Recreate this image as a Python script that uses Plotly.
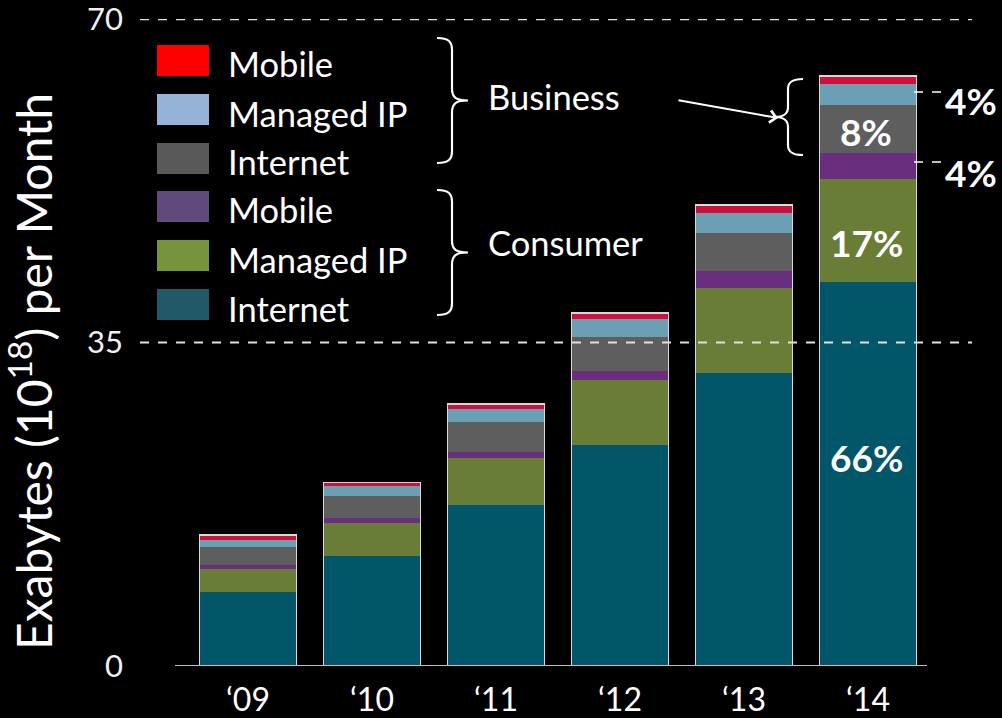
import numpy as np
import plotly.graph_objects as go

# ---------------- data ----------------
years = ["‘09", "‘10", "‘11", "‘12", "‘13", "‘14"]
consumer_internet = [8.0, 11.9, 17.4, 23.9, 31.7, 41.6]
consumer_managed_ip = [2.5, 3.6, 5.1, 7.1, 9.2, 11.1]
consumer_mobile = [0.45, 0.55, 0.65, 0.9, 1.8, 2.8]
business_internet = [1.95, 2.3, 3.25, 3.7, 4.2, 5.2]
business_managed_ip = [0.75, 1.15, 1.4, 1.95, 2.15, 2.3]
business_mobile = [0.55, 0.35, 0.55, 0.65, 0.85, 0.85]

series_names = ["Internet", "Managed IP", "Mobile", "Internet", "Managed IP", "Mobile"]
series_groups = ["Consumer", "Consumer", "Consumer", "Business", "Business", "Business"]
series_values = [consumer_internet, consumer_managed_ip, consumer_mobile,
                 business_internet, business_managed_ip, business_mobile]
bar_colors = ["#02566a", "#6a7d37", "#6a2e7e", "#5e5e5e", "#6b9fb3", "#d0103a"]
legend_colors = ["#215967", "#77933c", "#604a7b", "#595959", "#95b3d7", "#ff0000"]

share_labels = ["66%", "17%", "4%", "8%", "4%"]
y_ticks = [0, 35, 70]

# ---------------- layout geometry (pixels) ----------------
W, H = 1002, 718
PL, PR, PT, PB = 140, 972, 19, 666


def px(x):
    return (x - PL) / (PR - PL)


def py(y):
    return (PB - y) / (PB - PT)


FONT = "Lato, Carlito, Calibri, sans-serif"
fig = go.Figure()

# stacked segments
for name, grp, vals, col in zip(series_names, series_groups, series_values, bar_colors):
    fig.add_trace(go.Bar(
        x=years, y=vals, name=f"{grp} {name}", marker=dict(color=col, line=dict(width=0)),
        width=0.78, showlegend=False))

# outline of each whole stack
totals = np.sum(np.array(series_values), axis=0)
fig.add_trace(go.Bar(
    x=years, y=totals, base=[0] * len(years), width=0.78, showlegend=False,
    marker=dict(color="rgba(0,0,0,0)", line=dict(color="#d9d9d9", width=1.5)),
    hoverinfo="skip"))

shapes = []
# dashed gridlines above bars
for v in y_ticks[1:]:
    shapes.append(dict(type="line", xref="paper", yref="y", x0=0, x1=1, y0=v, y1=v,
                       line=dict(color="#e0e0e0", width=2, dash="dash"), layer="above"))
# axis base line
shapes.append(dict(type="line", xref="paper", yref="y", x0=px(175), x1=px(927), y0=0, y1=0,
                   line=dict(color="#bfbfbf", width=2), layer="above"))

# legend swatches (top to bottom)
sw_tops = [45, 94, 143, 191, 240, 289]
for top, col in zip(sw_tops, legend_colors[::-1]):
    shapes.append(dict(type="rect", xref="paper", yref="paper",
                       x0=px(157), x1=px(209), y0=py(top + 31), y1=py(top),
                       fillcolor=col, line=dict(width=0)))


def brace_path(x0, ytop, ybot, depth, tip, r, sign):
    """Curly brace; sign=+1 gives '}' (tip to the right), sign=-1 gives '{'."""
    xm = x0 + sign * depth
    xt = xm + sign * tip
    ym = (ytop + ybot) / 2
    pts = [
        ("M", [(x0, ytop)]),
        ("C", [(x0 + sign * depth * 0.8, ytop), (xm, ytop + 4), (xm, ytop + r)]),
        ("L", [(xm, ym - r)]),
        ("C", [(xm, ym - 3), (xm + sign * 4, ym), (xt, ym)]),
        ("C", [(xm + sign * 4, ym), (xm, ym + 3), (xm, ym + r)]),
        ("L", [(xm, ybot - r)]),
        ("C", [(xm, ybot - 4), (x0 + sign * depth * 0.8, ybot), (x0, ybot)]),
    ]
    s = ""
    for cmd, ps in pts:
        s += cmd + " " + " ".join(f"{px(a):.5f},{py(b):.5f}" for a, b in ps) + " "
    return s


brace_style = dict(type="path", xref="paper", yref="paper", line=dict(color="white", width=2.2))
shapes.append(dict(path=brace_path(437, 38, 163, 15, 16, 12, 1), **brace_style))
shapes.append(dict(path=brace_path(437, 190, 315, 15, 16, 12, 1), **brace_style))
shapes.append(dict(path=brace_path(803, 79, 155, 15, 14, 10, -1), **brace_style))

# dashed leader lines to the side labels
for yy in (92, 162):
    shapes.append(dict(type="line", xref="paper", yref="paper", x0=px(914), x1=px(944),
                       y0=py(yy), y1=py(yy), line=dict(color="white", width=1.5, dash="dash")))

annotations = []
legend_text = ["Mobile", "Managed IP", "Internet", "Mobile", "Managed IP", "Internet"]
for top, t in zip(sw_tops, legend_text):
    annotations.append(dict(x=px(226), y=py(top + 19), xref="paper", yref="paper",
                            text=t, showarrow=False, xanchor="left", yanchor="middle",
                            font=dict(family=FONT, size=34.5, color="white")))
annotations.append(dict(x=px(486), y=py(96), xref="paper", yref="paper", text="Business",
                        showarrow=False, xanchor="left", yanchor="middle",
                        font=dict(family=FONT, size=34.5, color="white")))
annotations.append(dict(x=px(486), y=py(242), xref="paper", yref="paper", text="Consumer",
                        showarrow=False, xanchor="left", yanchor="middle",
                        font=dict(family=FONT, size=34.5, color="white")))

# arrow from "Business" to the right brace
annotations.append(dict(x=px(778), y=py(118), xref="paper", yref="paper", text="",
                        showarrow=True, ax=677 - 778, ay=100 - 118, axref="pixel", ayref="pixel",
                        arrowhead=4, arrowsize=1.2, arrowwidth=2, arrowcolor="white"))

# share labels for 2014
pct_pos = [(866, 458, "center"), (866, 242, "center"), (999, 172, "right"),
           (866, 132, "center"), (999, 100, "right")]
for (xx, yy, anc), t in zip(pct_pos, share_labels):
    annotations.append(dict(x=px(xx), y=py(yy), xref="paper", yref="paper", text=f"<b>{t}</b>",
                            showarrow=False, xanchor=anc, yanchor="middle",
                            font=dict(family=FONT, size=37, color="white")))

# y-axis title
annotations.append(dict(x=px(30), y=py(372), xref="paper", yref="paper",
                        text="Exabytes (10<sup>18</sup>) per Month", textangle=-90,
                        showarrow=False, xanchor="center", yanchor="middle",
                        font=dict(family=FONT, size=48, color="white")))

fig.update_layout(
    width=W, height=H,
    margin=dict(l=PL, r=W - PR, t=PT, b=H - PB, pad=0, autoexpand=False),
    paper_bgcolor="black", plot_bgcolor="black",
    barmode="stack", bargap=0.22,
    showlegend=False,
    shapes=shapes, annotations=annotations,
    font=dict(family=FONT, color="white"),
    xaxis=dict(type="category", categoryorder="array", categoryarray=years,
               range=[-0.871, 5.839], showgrid=False, showline=False, zeroline=False,
               ticks="", tickfont=dict(family=FONT, size=32, color="white"),
               ticklabelstandoff=12, fixedrange=True, automargin=False),
    yaxis=dict(range=[0, 70.02], tickvals=y_ticks, ticktext=[str(v) for v in y_ticks],
               showgrid=False, zeroline=False, showline=False, ticks="",
               tickfont=dict(family=FONT, size=31, color="#f0f0f0"),
               ticklabeloverflow="allow", ticklabelstandoff=16,
               fixedrange=True, automargin=False),
)

fig.write_html("out.html", config={"displayModeBar": False},
               post_script="document.body.style.margin='0';document.body.style.overflow='hidden';")
